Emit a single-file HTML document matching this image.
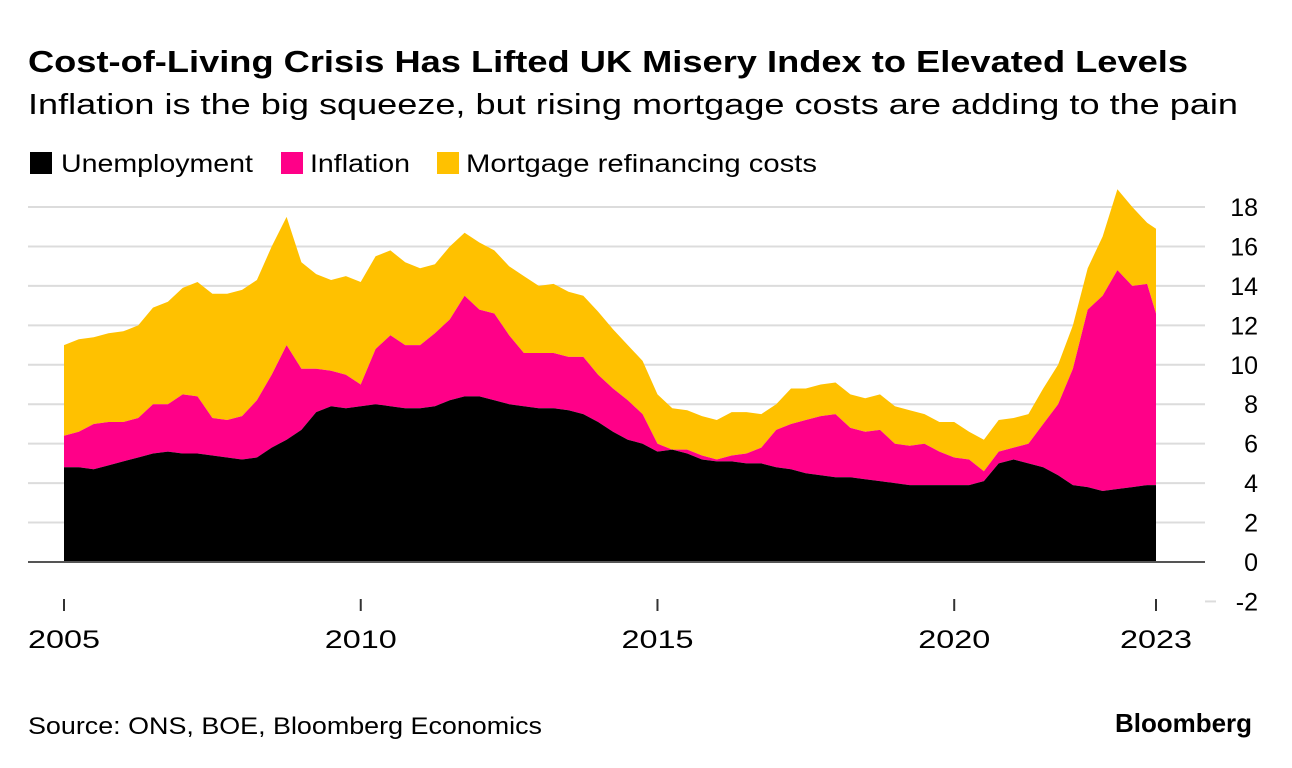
<!DOCTYPE html>
<html><head><meta charset="utf-8">
<style>
body{margin:0;background:#fff;width:1292px;height:768px;overflow:hidden;font-family:"Liberation Sans",sans-serif;}
svg{display:block}
</style></head>
<body>
<svg id="chart" width="1292" height="768">
<text x="28" y="72" font-size="31" font-weight="bold" fill="#000" textLength="1160" lengthAdjust="spacingAndGlyphs">Cost-of-Living Crisis Has Lifted UK Misery Index to Elevated Levels</text>
<text x="28" y="114" font-size="29" fill="#000" textLength="1210" lengthAdjust="spacingAndGlyphs">Inflation is the big squeeze, but rising mortgage costs are adding to the pain</text>
<g>
<rect x="30" y="152" width="22" height="22" fill="#000"/>
<text x="61" y="172" font-size="25" textLength="192" lengthAdjust="spacingAndGlyphs">Unemployment</text>
<rect x="281" y="152" width="22" height="22" fill="#ff0088"/>
<text x="310" y="172" font-size="25" textLength="100" lengthAdjust="spacingAndGlyphs">Inflation</text>
<rect x="437" y="152" width="22" height="22" fill="#ffc100"/>
<text x="466" y="172" font-size="25" textLength="351" lengthAdjust="spacingAndGlyphs">Mortgage refinancing costs</text>
</g>
<g id="grid"></g>
<g id="areas"></g>
<g id="axes"></g>
<text x="28" y="734" font-size="24" textLength="514" lengthAdjust="spacingAndGlyphs">Source: ONS, BOE, Bloomberg Economics</text>
<text x="1115" y="732" font-size="26" font-weight="bold" textLength="137" lengthAdjust="spacingAndGlyphs">Bloomberg</text>
</svg>
<script>
const unemployment = [4.8,4.8,4.7,4.9, 5.1,5.3,5.5,5.6, 5.5,5.5,5.4,5.3, 5.2,5.3,5.8,6.2, 6.7,7.6,7.9,7.8, 7.9,8.0,7.9,7.8, 7.8,7.9,8.2,8.4, 8.4,8.2,8.0,7.9, 7.8,7.8,7.7,7.5, 7.1,6.6,6.2,6.0, 5.6,5.7,5.5,5.2, 5.1,5.1,5.0,5.0, 4.8,4.7,4.5,4.4, 4.3,4.3,4.2,4.1, 4.0,3.9,3.9,3.9, 3.9,3.9,4.1,5.0, 5.2,5.0,4.8,4.4, 3.9,3.8,3.6,3.7, 3.8,3.9,3.9];
const inflation = [1.6,1.8,2.3,2.2, 2.0,2.0,2.5,2.4, 3.0,2.9,1.9,1.9, 2.2,2.9,3.7,4.8, 3.1,2.2,1.8,1.7, 1.1,2.8,3.6,3.2, 3.2,3.7,4.1,5.1, 4.4,4.4,3.5,2.7, 2.8,2.8,2.7,2.9, 2.4,2.2,2.0,1.5, 0.4,0.0,0.2,0.2, 0.1,0.3,0.5,0.8, 1.9,2.3,2.7,3.0, 3.2,2.5,2.4,2.6, 2.0,2.0,2.1,1.7, 1.4,1.3,0.5,0.6, 0.6,1.0,2.2,3.6, 5.9,9.0,9.9,11.1, 10.2,10.2,8.7];
const mortgage = [4.6,4.7,4.4,4.5, 4.6,4.7,4.9,5.2, 5.4,5.8,6.3,6.4, 6.4,6.1,6.5,6.5, 5.4,4.8,4.6,5.0, 5.2,4.7,4.3,4.2, 3.9,3.5,3.7,3.2, 3.4,3.2,3.5,3.9, 3.4,3.5,3.3,3.1, 3.2,3.0,2.8,2.7, 2.5,2.1,2.0,2.0, 2.0,2.2,2.1,1.7, 1.3,1.8,1.6,1.6, 1.6,1.7,1.7,1.8, 1.9,1.8,1.5,1.5, 1.8,1.4,1.6,1.6, 1.5,1.5,1.8,2.0, 2.2,2.1,3.0,4.1, 4.0,3.1,4.3];
const dates = unemployment.map((_, i) => i < unemployment.length - 1 ? 2005 + i / 4 : 2023.4);
const yTicks = [-2,0,2,4,6,8,10,12,14,16,18];
const xTicks = [2005,2010,2015,2020,2023.4];
const xTickLabels = ["2005","2010","2015","2020","2023"];

const NS = "http://www.w3.org/2000/svg";
const xS = t => 64 + (t - 2005) * (1156 - 64) / (2023.4 - 2005);
const yS = v => 562 - v * 19.72;

const grid = document.getElementById('grid');
yTicks.forEach(v => {
  const l = document.createElementNS(NS, 'line');
  
  
  l.setAttribute('x1', v < 0 ? 1205 : 28); l.setAttribute('x2', v < 0 ? 1216 : 1205);
  l.setAttribute('y1', yS(v)); l.setAttribute('y2', yS(v));
  l.setAttribute('stroke', '#dcdcdc'); l.setAttribute('stroke-width', 2);
  grid.appendChild(l);
  const t = document.createElementNS(NS, 'text');
  
  
  t.setAttribute('x', 1258); t.setAttribute('y', yS(v) + 9);
  t.setAttribute('text-anchor', 'end'); t.setAttribute('font-size', 25);
  t.textContent = v;
  grid.appendChild(t);
});

const areas = document.getElementById('areas');
const series = [unemployment, inflation, mortgage];
const colors = ['#000000', '#ff0088', '#ffc100'];
const names = ['area-unemployment', 'area-inflation', 'area-mortgage'];
let base = dates.map(() => 0);
const paths = [];
series.forEach((s, k) => {
  const top = base.map((b, i) => b + s[i]);
  let d = 'M' + dates.map((t, i) => xS(t).toFixed(1) + ',' + yS(top[i]).toFixed(1)).join('L');
  for (let i = dates.length - 1; i >= 0; i--) d += 'L' + xS(dates[i]).toFixed(1) + ',' + yS(base[i]).toFixed(1);
  d += 'Z';
  const p = document.createElementNS(NS, 'path');
  
  
  p.setAttribute('d', d); p.setAttribute('fill', colors[k]);
  paths.push(p);
  base = top;
});
paths.reverse().forEach(p => areas.appendChild(p));

const axes = document.getElementById('axes');
const zero = document.createElementNS(NS, 'line');


zero.setAttribute('x1', 28); zero.setAttribute('x2', 1205);
zero.setAttribute('y1', yS(0)); zero.setAttribute('y2', yS(0));
zero.setAttribute('stroke', '#555'); zero.setAttribute('stroke-width', 2);
axes.appendChild(zero);
xTicks.forEach((t, i) => {
  const l = document.createElementNS(NS, 'line');
  
  
  l.setAttribute('x1', xS(t)); l.setAttribute('x2', xS(t));
  l.setAttribute('y1', 599); l.setAttribute('y2', 611);
  l.setAttribute('stroke', '#333'); l.setAttribute('stroke-width', 2);
  axes.appendChild(l);
  const tx = document.createElementNS(NS, 'text');
  
  
  tx.setAttribute('x', xS(t) - 36); tx.setAttribute('y', 648);
  tx.setAttribute('font-size', 25);
  tx.setAttribute('textLength', 72);
  tx.setAttribute('lengthAdjust', 'spacingAndGlyphs');
  tx.textContent = xTickLabels[i];
  axes.appendChild(tx);
});
</script>
</body></html>
